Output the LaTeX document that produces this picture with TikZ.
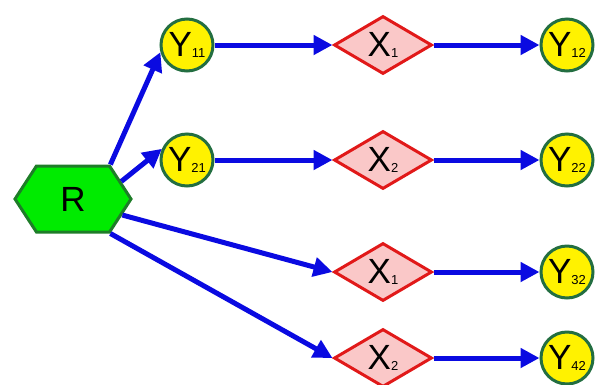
\documentclass[tikz,border=0pt]{standalone}
\usepackage{fontspec}
\setmainfont{Liberation Sans}
\usetikzlibrary{shapes.geometric,shapes.symbols,arrows.meta}

\definecolor{leafgreen}{RGB}{0,235,0}
\definecolor{darkleaf}{RGB}{30,125,40}
\definecolor{ringgreen}{RGB}{35,110,65}
\definecolor{flowblue}{RGB}{10,10,225}
\definecolor{lightpink}{RGB}{250,200,200}
\definecolor{boxred}{RGB}{225,25,25}

% big letter with a small index beside it
\newcommand{\sym}[2]{\fontsize{35}{35}\selectfont #1\raisebox{-1pt}{\fontsize{13}{13}\selectfont #2}}

\begin{document}
\begin{tikzpicture}[x=1pt,y=1pt]
      % Define styles
      \tikzset{
        root/.style={signal, signal to=east and west, signal pointer angle=114,
          draw=darkleaf, line width=3pt, fill=leafgreen,
          minimum width=116pt, minimum height=66pt, inner sep=0pt},
        yvar/.style={circle, draw=ringgreen, line width=3pt, fill=yellow,
          minimum size=52pt, inner sep=0pt},
        xvar/.style={diamond, draw=boxred, line width=3pt, fill=lightpink,
          minimum width=98pt, minimum height=58pt, inner sep=0pt},
        flow/.style={-{Triangle[length=19pt,width=19pt]}, flowblue, line width=5pt}
      }
      \useasboundingbox (0,0) rectangle (597,-384);
      % Root on the left
      \node[root] (R) at (73,-199) {\fontsize{35}{35}\selectfont R};
      % First column
      \node[yvar] (Y11) at (187,-45) {\sym{Y}{11}};
      \node[yvar] (Y21) at (187,-160) {\sym{Y}{21}};
      % Middle column
      \node[xvar] (X1a) at (383,-45) {\sym{X}{1}};
      \node[xvar] (X2a) at (383,-160) {\sym{X}{2}};
      \node[xvar] (X1b) at (383,-272) {\sym{X}{1}};
      \node[xvar] (X2b) at (383,-358) {\sym{X}{2}};
      % Right column
      \node[yvar] (Y12) at (567,-45) {\sym{Y}{12}};
      \node[yvar] (Y22) at (567,-160) {\sym{Y}{22}};
      \node[yvar] (Y32) at (567,-272) {\sym{Y}{32}};
      \node[yvar] (Y42) at (567,-358) {\sym{Y}{42}};
      % Arrows out of the root
      \draw[flow] (R.north east) -- (Y11.195);
      \draw[flow] (R.20) -- (Y21.156);
      \draw[flow] (R.-18) -- (X1b.west);
      \draw[flow] (R.south east) -- (X2b.west);
      % Arrows along the rows
      \draw[flow] (Y11) -- (X1a);
      \draw[flow] (Y21) -- (X2a);
      \draw[flow] (X1a) -- (Y12);
      \draw[flow] (X2a) -- (Y22);
      \draw[flow] (X1b) -- (Y32);
      \draw[flow] (X2b) -- (Y42);
    \end{tikzpicture}
\end{document}
